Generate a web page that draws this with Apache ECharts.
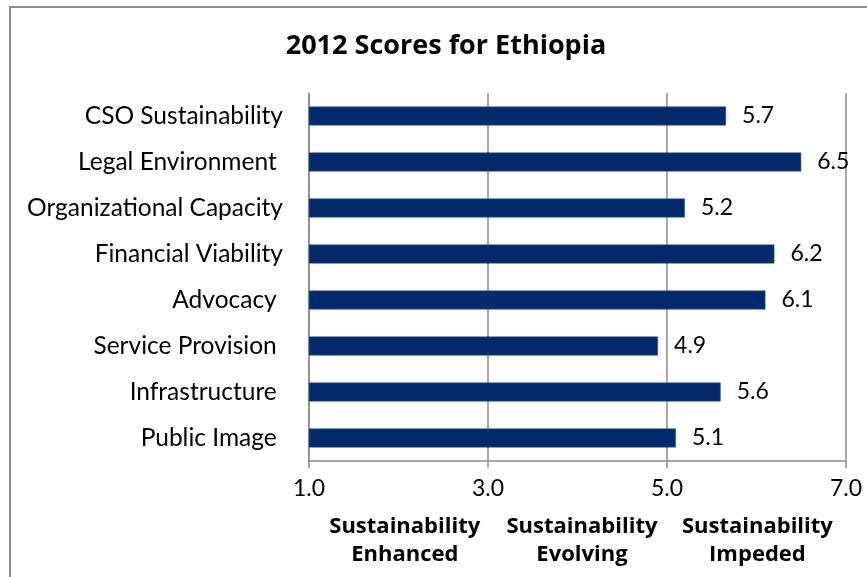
<!DOCTYPE html>
<html><head><meta charset="utf-8">
<script src="https://cdn.jsdelivr.net/npm/echarts@6/dist/echarts.min.js"></script>
<style>html,body{margin:0;padding:0;background:#fff;}#c{width:867px;height:577px;}</style>
</head><body><div id="c"></div>
<script>
const categories = ["CSO Sustainability", "Legal Environment ", "Organizational Capacity", "Financial Viability", "Advocacy ", "Service Provision ", "Infrastructure ", "Public Image "];
const scores = [5.66, 6.5, 5.2, 6.2, 6.1, 4.9, 5.6, 5.1];
const tickValues = [1, 3, 5, 7];
const zoneLabels = ["Sustainability\nEnhanced", "Sustainability\nEvolving", "Sustainability\nImpeded"];
const zoneCenters = [2.07, 4.05, 6.01];

const FONT = "Lato";
const BOLDFONT = "Open Sans";
const chart = echarts.init(document.getElementById('c'), null, {renderer: 'canvas'});
const gridLeft = 309, gridRight = 21, gridTop = 93, gridBottom = 116;
const plotW = 867 - gridLeft - gridRight;
function xPix(v){ return gridLeft + (v - 1) / 6 * plotW; }

chart.setOption({
  animation: false,
  backgroundColor: '#fff',
  title: {
    text: '2012 Scores for Ethiopia',
    left: 441, top: 28, textAlign: 'center',
    textStyle: {fontFamily: BOLDFONT, fontWeight: 'bold', fontSize: 27, color: '#000'}
  },
  grid: {left: gridLeft, right: gridRight, top: gridTop, bottom: gridBottom, containLabel: false},
  xAxis: {
    type: 'value', min: tickValues[0], max: tickValues[tickValues.length - 1], interval: 2,
    axisLine: {show: true, lineStyle: {color: '#8c8c8c', width: 1.5}},
    axisTick: {show: true, length: 7, lineStyle: {color: '#8c8c8c', width: 1.5}},
    splitLine: {show: true, lineStyle: {color: '#8c8c8c', width: 1.5}},
    axisLabel: {formatter: v => v.toFixed(1), fontFamily: FONT, fontSize: 23, color: '#000', margin: 16}
  },
  yAxis: {
    type: 'category', data: categories, inverse: true,
    axisLine: {show: true, lineStyle: {color: '#8c8c8c', width: 1.5}},
    axisTick: {show: false},
    axisLabel: {fontFamily: FONT, fontSize: 24.5, color: '#000', margin: 26}
  },
  series: [{
    type: 'bar', data: scores, barWidth: 19,
    itemStyle: {color: '#03296b', borderColor: '#3f5f95', borderWidth: 0.6},
    label: {show: true, position: 'right', distance: 16, formatter: p => p.value.toFixed(1),
      fontFamily: FONT, fontSize: 23, color: '#000'}
  }],
  graphic: [
    {type: 'rect', silent: true, shape: {x: 10, y: 7, width: 880, height: 600},
     style: {fill: 'none', stroke: '#8c8c8c', lineWidth: 2}}
  ].concat(zoneLabels.map((t, i) => ({
    type: 'text', x: xPix(zoneCenters[i]), y: 513,
    style: {text: t, fontFamily: BOLDFONT, fontWeight: 'bold', fontSize: 22, lineHeight: 28,
      fill: '#000', textAlign: 'center', textVerticalAlign: 'top'}
  })))
});
</script></body></html>
